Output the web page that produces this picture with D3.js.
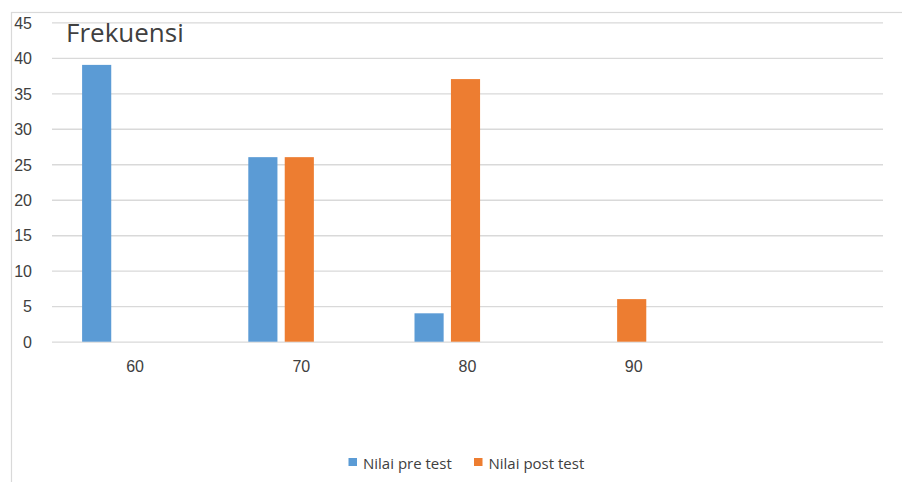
<!DOCTYPE html>
<html>
<head>
<meta charset="utf-8">
<script src="https://cdn.jsdelivr.net/npm/d3@7/dist/d3.min.js"></script>
<style>
  html, body { margin: 0; padding: 0; background: #ffffff; }
  svg { display: block; font-family: "Open Sans", "Noto Sans", sans-serif; }
</style>
</head>
<body>
<svg id="chart" width="902" height="482"></svg>
<script>
// Score categories (the last slot is an empty category)
const categories = ["60", "70", "80", "90", ""];
// Frequency per score
const preTest  = [39, 26, 4, null, null];
const postTest = [null, 26, 37, 6, null];
const seriesNames = ["Nilai pre test", "Nilai post test"];
const seriesColors = ["#5B9BD5", "#ED7D31"];
const yTicks = [0, 5, 10, 15, 20, 25, 30, 35, 40, 45];
const chartTitle = "Frekuensi";

const svg = d3.select("#chart");
const plot = { left: 52, right: 883, top: 22.3, bottom: 341.7 };
const textColor = "#404040";
const lineColor = "#d9d9d9";

// Chart frame (runs past the right and bottom edges)
svg.append("rect")
  .attr("x", 11.5).attr("y", 12.5)
  .attr("width", 1000).attr("height", 1000)
  .attr("fill", "none").attr("stroke", lineColor).attr("stroke-width", 1.2);

const x0 = d3.scaleBand().domain(d3.range(categories.length))
  .range([plot.left, plot.right]).paddingInner(0).paddingOuter(0);
// Each cluster keeps three bar slots; only the first two hold series
const x1 = d3.scaleBand().domain([0, 1, 2]).range([-53, 49]).paddingInner(0.2);
const y = d3.scaleLinear().domain([0, 45]).range([plot.bottom, plot.top]);

// Y axis with gridlines
const yAxis = d3.axisLeft(y).tickValues(yTicks)
  .tickSizeInner(-(plot.right - plot.left)).tickSizeOuter(0).tickPadding(20);
const gy = svg.append("g").attr("transform", `translate(${plot.left},0)`).call(yAxis);
gy.select(".domain").remove();
gy.selectAll(".tick line").attr("stroke", lineColor).attr("stroke-width", 1.3);
gy.selectAll(".tick text").attr("fill", textColor)
  .style("font-size", "16px").attr("dy", "0.36em");

// X axis labels
const xAxis = d3.axisBottom(x0).tickFormat(i => categories[i]).tickSize(0).tickPadding(0);
const gx = svg.append("g").attr("transform", `translate(0,${plot.bottom})`).call(xAxis);
gx.select(".domain").remove();
gx.selectAll(".tick text").attr("fill", textColor)
  .style("font-size", "16px").attr("y", 30.5).attr("dy", 0);

// Bars
const seriesData = [preTest, postTest];
seriesData.forEach((vals, s) => {
  svg.append("g").selectAll("rect")
    .data(vals.map((v, i) => ({ v, i })).filter(d => d.v != null))
    .join("rect")
    .attr("x", d => x0(d.i) + x0.bandwidth() / 2 + x1(s))
    .attr("width", x1.bandwidth())
    .attr("y", d => y(d.v))
    .attr("height", d => y(0) - y(d.v))
    .attr("fill", seriesColors[s]);
});

// Title
svg.append("text")
  .attr("x", 66).attr("y", 41.5)
  .attr("fill", textColor)
  .style("font-size", "26px")
  .text(chartTitle);

// Legend
const legendItems = [{ x: 348.5 }, { x: 474 }];
seriesNames.forEach((name, s) => {
  const g = svg.append("g").attr("transform", `translate(${legendItems[s].x},458)`);
  g.append("rect").attr("width", 8.5).attr("height", 8).attr("fill", seriesColors[s]);
  g.append("text").attr("x", 14.5).attr("y", 11)
    .attr("fill", textColor).style("font-size", "15px").text(name);
});
</script>
</body>
</html>
